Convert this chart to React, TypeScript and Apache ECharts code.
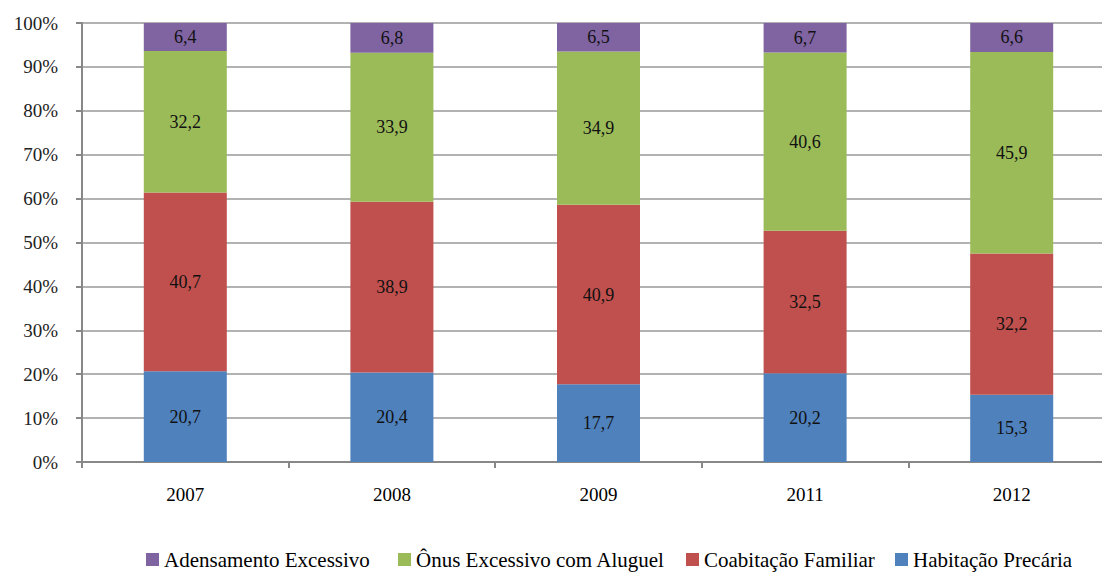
import React, { useEffect, useRef } from "react";
import * as echarts from "echarts";

const categories = ["2007", "2008", "2009", "2011", "2012"];
const habitacaoPrecaria = [20.7, 20.4, 17.7, 20.2, 15.3];
const coabitacaoFamiliar = [40.7, 38.9, 40.9, 32.5, 32.2];
const onusExcessivo = [32.2, 33.9, 34.9, 40.6, 45.9];
const adensamentoExcessivo = [6.4, 6.8, 6.5, 6.7, 6.6];
const legendOrder = [
  "Adensamento Excessivo",
  "Ônus Excessivo com Aluguel",
  "Coabitação Familiar",
  "Habitação Precária",
];

const FONT = "Liberation Serif";
const legendLefts = [146, 398, 686, 895];

export default function App() {
  const ref = useRef<HTMLDivElement>(null);
  useEffect(() => {
    document.body.style.margin = "0";
    const chart = echarts.init(ref.current!, null, { renderer: "svg" });
    const mk = (name: string, data: number[], color: string) => ({
      name,
      type: "bar",
      stack: "total",
      data,
      barWidth: 83,
      itemStyle: { color },
      label: {
        show: true,
        position: "inside",
        color: "#111",
        fontFamily: FONT,
        fontSize: 18,
        formatter: (p: any) => String(p.value).replace(".", ","),
      },
    });
    chart.setOption({
      animation: false,
      textStyle: { fontFamily: FONT },
      grid: { left: 82, top: 23, width: 1033, height: 439, containLabel: false, outerBoundsMode: "none" },
      legend: legendOrder.map((name, i) => ({
        data: [name],
        top: 549,
        left: legendLefts[i],
        padding: 0,
        icon: "rect",
        itemWidth: 13,
        itemHeight: 13,
        textStyle: { fontFamily: FONT, fontSize: 21, color: "#000" },
      })),
      xAxis: {
        type: "category",
        data: categories,
        axisLine: { lineStyle: { color: "#888", width: 2 } },
        axisTick: { show: true, length: 6, lineStyle: { color: "#888", width: 2 } },
        axisLabel: { color: "#000", fontFamily: FONT, fontSize: 19, margin: 23 },
      },
      yAxis: {
        type: "value",
        min: 0,
        max: 100,
        interval: 10,
        axisLine: { show: true, lineStyle: { color: "#888", width: 2 } },
        axisTick: { show: true, length: 6, lineStyle: { color: "#888", width: 2 } },
        splitLine: { lineStyle: { color: "#999", width: 1.5 } },
        axisLabel: { color: "#222", fontFamily: FONT, fontSize: 19, margin: 24, formatter: "{value}%" },
      },
      series: [
        mk("Habitação Precária", habitacaoPrecaria, "#4F81BD"),
        mk("Coabitação Familiar", coabitacaoFamiliar, "#C0504D"),
        mk("Ônus Excessivo com Aluguel", onusExcessivo, "#9BBB59"),
        mk("Adensamento Excessivo", adensamentoExcessivo, "#8064A2"),
      ],
    });
    return () => chart.dispose();
  }, []);
  return <div ref={ref} style={{ width: 1102, height: 572 }} />;
}
